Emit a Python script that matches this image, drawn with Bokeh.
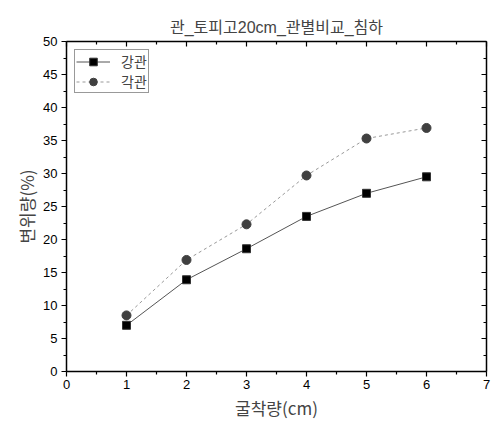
from bokeh.plotting import figure
from bokeh.models import LinearAxis, FixedTicker, Range1d, Legend, LegendItem
from bokeh.embed import file_html
from bokeh.resources import INLINE

x_vals = [1, 2, 3, 4, 5, 6]
steel = [7.0, 13.9, 18.6, 23.5, 27.0, 29.5]
square_pipe = [8.5, 16.9, 22.3, 29.7, 35.3, 36.9]
series_names = ["강관", "각관"]
title_text = "관_토피고20cm_관별비교_침하"
x_label = "굴착량(cm)"
y_label = "변위량(%)"
x_ticks = [0, 1, 2, 3, 4, 5, 6, 7]
y_ticks = [0, 5, 10, 15, 20, 25, 30, 35, 40, 45, 50]

KR = "Noto Sans CJK KR"
NUM = "Liberation Sans"

p = figure(width=495, height=426, output_backend="svg", toolbar_location=None,
           x_range=Range1d(0, 7), y_range=Range1d(0, 50),
           min_border_left=66, min_border_right=9, min_border_top=41, min_border_bottom=55)
p.grid.visible = False
p.outline_line_color = None
p.background_fill_color = "white"

p.title.text = title_text
p.title.align = "center"
p.title.text_font = "Liberation Sans, Noto Sans CJK KR"
p.title.text_font_size = "16px"
p.title.text_font_style = "normal"
p.title.offset = 2
p.title.standoff = 12

xt = FixedTicker(ticks=x_ticks, minor_ticks=[t + 0.5 for t in x_ticks[:-1]])
yt = FixedTicker(ticks=y_ticks, minor_ticks=[t + 2.5 for t in y_ticks[:-1]])

def style(ax, labels=True):
    ax.axis_line_width = 1.5
    ax.axis_line_color = "black"
    ax.major_tick_line_color = "black"
    ax.minor_tick_line_color = "black"
    ax.major_tick_line_width = 1.2
    ax.minor_tick_line_width = 1.2
    ax.major_label_text_font = NUM
    ax.major_label_text_font_size = "13px"
    ax.major_label_text_color = "black"
    ax.axis_label_text_font = KR
    ax.axis_label_text_font_size = "17px"
    ax.axis_label_text_font_style = "normal"
    if not labels:
        ax.major_label_text_font_size = "0px"

xa = p.xaxis[0]
xa.ticker = xt
style(xa)
xa.major_tick_out = 5
xa.major_tick_in = 0
xa.minor_tick_out = 3
xa.minor_tick_in = 0
xa.axis_label = x_label
xa.axis_label_standoff = 3
xa.major_label_standoff = 3

ya = p.yaxis[0]
ya.ticker = yt
style(ya)
ya.major_tick_out = 5
ya.major_tick_in = 0
ya.minor_tick_out = 3
ya.minor_tick_in = 0
ya.axis_label = y_label
ya.axis_label_standoff = 1
ya.major_label_standoff = 4

top = LinearAxis(ticker=xt)
style(top, labels=False)
top.major_tick_in = 5
top.major_tick_out = 0
top.minor_tick_in = 3
top.minor_tick_out = 0
top.major_label_standoff = 0
p.add_layout(top, "above")

right = LinearAxis(ticker=yt)
style(right, labels=False)
right.major_tick_in = 5
right.major_tick_out = 0
right.minor_tick_in = 3
right.minor_tick_out = 0
right.major_label_standoff = 0
p.add_layout(right, "right")

l1 = p.line(x_vals, steel, line_color="#555555", line_width=1)
m1 = p.scatter(x_vals, steel, marker="square", size=8, fill_color="black", line_color="#333333")
l2 = p.line(x_vals, square_pipe, line_color="#999999", line_width=1, line_dash="3 3")
m2 = p.scatter(x_vals, square_pipe, marker="circle", size=9, fill_color="#404040", line_color="#404040")

legend = Legend(items=[LegendItem(label=series_names[0], renderers=[l1, m1]),
                       LegendItem(label=series_names[1], renderers=[l2, m2])],
                location=(8, 278))
legend.label_text_font = KR
legend.label_text_font_size = "14px"
legend.border_line_color = "#333333"
legend.border_line_width = 1
legend.margin = 0
legend.padding = 1
legend.spacing = 0
legend.glyph_width = 34
legend.label_standoff = 11
legend.label_height = 19
legend.glyph_height = 19
legend.background_fill_alpha = 1.0
p.add_layout(legend)

open("out.html", "w").write(file_html(p, INLINE))
